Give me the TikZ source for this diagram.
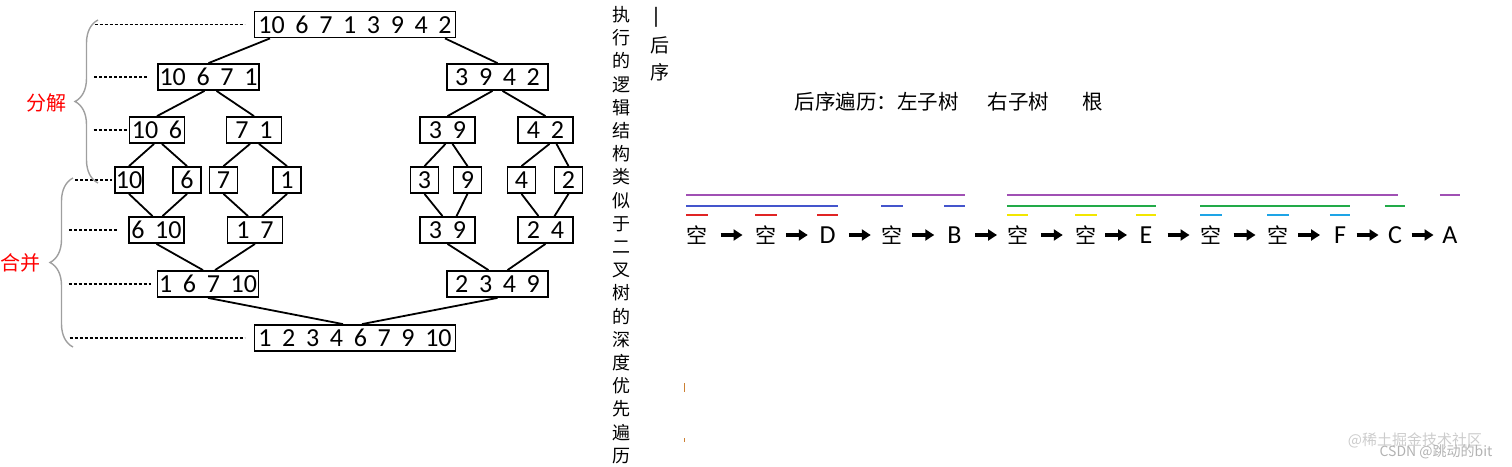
\documentclass[tikz,border=0pt]{standalone}
\usepackage{fontspec}
\setmainfont{Carlito}
\newfontfamily\cjk{Noto Sans CJK SC}
\usepackage{tikz}
\usetikzlibrary{arrows.meta,calc}
\usetikzlibrary{decorations.pathreplacing}
\definecolor{barpurple}{HTML}{A050B4}
\definecolor{barblue}{HTML}{4455CC}
\definecolor{barred}{HTML}{E02424}
\definecolor{bargreen}{HTML}{22AA48}
\definecolor{baryellow}{HTML}{F2E600}
\definecolor{barcyan}{HTML}{1EA4E6}
\newcommand\boxfont{\fontsize{26}{26}\selectfont\spaceskip=.41em\relax}

\begin{document}
\begin{tikzpicture}[x=1pt,y=-1pt,
    link/.style={line width=1.8pt},
    guide/.style={dash pattern=on 3pt off 2pt,line width=1.1pt},
    curly/.style={decorate,decoration={brace,amplitude=23pt},draw=gray!75,line width=1.4pt},
    seq/.style={line width=3.4pt,-{Triangle[length=9pt,width=11pt]}},
    bar/.style={line width=2.6pt},
    kong/.style={font=\cjk\fontsize{21}{21}\selectfont}]%
                    \useasboundingbox (0,0) rectangle (1512,466);%
                    \begin{scope}
                        \tikzstyle{every node}=[draw,line width=1.8pt,inner sep=0pt,minimum height=26pt,font=\boxfont];%%
                        \node[minimum width=201pt] (a) at (355,24.5) {10 6 7 1 3 9 4 2}; %%
                        \node[minimum width=101pt] (b1) at (208.5,77) {10 6 7 1}; %%
                        \node[minimum width=101pt] (b2) at (497.5,77) {3 9 4 2}; %%
                        \node[minimum width=55pt] (c1) at (157,130) {10 6}; %%
                        \node[minimum width=55pt] (c2) at (254,130) {7 1}; %%
                        \node[minimum width=55pt] (c3) at (447.5,130) {3 9}; %%
                        \node[minimum width=55pt] (c4) at (545.5,130) {4 2}; %%
                        \node[minimum width=28pt] (d1) at (129,180) {10}; %%
                        \node[minimum width=28pt] (d2) at (187,180) {6}; %%
                        \node[minimum width=28pt] (d3) at (223.5,180) {7}; %%
                        \node[minimum width=28pt] (d4) at (287,180) {1}; %%
                        \node[minimum width=28pt] (d5) at (424.5,180) {3}; %%
                        \node[minimum width=28pt] (d6) at (467.5,180) {9}; %%
                        \node[minimum width=28pt] (d7) at (521.5,180) {4}; %%
                        \node[minimum width=28pt] (d8) at (568.5,180) {2}; %%
                        \node[minimum width=55pt] (e1) at (156.5,230) {6 10}; %%
                        \node[minimum width=55pt] (e2) at (255,230) {1 7}; %%
                        \node[minimum width=55pt] (e3) at (447.5,230) {3 9}; %%
                        \node[minimum width=55pt] (e4) at (545.5,230) {2 4}; %%
                        \node[minimum width=101pt] (f1) at (208,284) {1 6 7 10}; %%
                        \node[minimum width=101pt] (f2) at (497.5,284) {2 3 4 9}; %%
                        \node[minimum width=201pt] (g) at (355,338) {1 2 3 4 6 7 9 10}; %%
                    \end{scope}
                        \draw[link] ([xshift=-85pt]a.south)--(b1.north); %%
                        \draw[link] ([xshift=90pt]a.south)--(b2.north); %%
                        \draw[link] ([xshift=-4pt]b1.south)--(c1.north); %%
                        \draw[link] ([xshift=8pt]b1.south)--(c2.north); %%
                        \draw[link] ([xshift=-5pt]b2.south)--(c3.north); %%
                        \draw[link] ([xshift=5pt]b2.south)--(c4.north); %%
                        \draw[link] ([xshift=-3pt]c1.south)--(d1.north); %%
                        \draw[link] ([xshift=5pt]c1.south)--(d2.north); %%
                        \draw[link] ([xshift=-4pt]c2.south)--(d3.north); %%
                        \draw[link] ([xshift=5pt]c2.south)--(d4.north); %%
                        \draw[link] ([xshift=-2pt]c3.south)--(d5.north); %%
                        \draw[link] ([xshift=5pt]c3.south)--(d6.north); %%
                        \draw[link] ([xshift=4pt]c4.south)--(d7.north); %%
                        \draw[link] ([xshift=11pt]c4.south)--(d8.north); %%
                        \draw[link] (d1.south)--([xshift=-4pt]e1.north); %%
                        \draw[link] (d2.south)--([xshift=6pt]e1.north); %%
                        \draw[link] (d3.south)--([xshift=-7pt]e2.north); %%
                        \draw[link] (d4.south)--([xshift=7pt]e2.north); %%
                        \draw[link] (d5.south)--([xshift=-5pt]e3.north); %%
                        \draw[link] (d6.south)--([xshift=9pt]e3.north); %%
                        \draw[link] (d7.south)--([xshift=-7pt]e4.north); %%
                        \draw[link] (d8.south)--([xshift=9pt]e4.north); %%
                        \draw[link] (e1.south)--([xshift=-5pt]f1.north); %%
                        \draw[link] (e2.south)--([xshift=7pt]f1.north); %%
                        \draw[link] (e3.south)--([xshift=-9pt]f2.north); %%
                        \draw[link] (e4.south)--([xshift=10pt]f2.north); %%
                        \draw[link] (f1.south)--([xshift=-12pt]g.north); %%
                        \draw[link] (f2.south)--([xshift=7pt]g.north); %%
                    % levels
                        \draw[guide] ([xshift=-159pt]a.west)--([xshift=-9pt]a.west); %%
                        \draw[guide] ([xshift=-63pt]b1.west)--([xshift=-10pt]b1.west); %%
                        \draw[guide] ([xshift=-35pt]c1.west)--([xshift=-2pt]c1.west); %%
                        \draw[guide] ([xshift=-39pt]d1.west)--([xshift=-2pt]d1.west); %%
                        \draw[guide] ([xshift=-59pt]e1.west)--([xshift=-11pt]e1.west); %%
                        \draw[guide] ([xshift=-88pt]f1.west)--([xshift=-6pt]f1.west); %%
                        \draw[guide] ([xshift=-184pt]g.west)--([xshift=-9pt]g.west); %%
                        \draw[curly] (98,183)--(98,20); %%
                        \draw[curly] (73,347)--(73,178); %%
                        \node[text=red,font=\cjk\fontsize{20}{20}\selectfont] (fenjie) at (46,103) {分解}; %%
                        \node[text=red,font=\cjk\fontsize{20}{20}\selectfont] (hebing) at (21,263) {合并}; %%
                    % middle columns
                        \node[align=center,font=\cjk\fontsize{18}{23.2}\selectfont] (logic) at (621,235) {执\\行\\的\\逻\\辑\\结\\构\\类\\似\\于\\二\\叉\\树\\的\\深\\度\\优\\先\\遍\\历}; %%
                        \node[rotate=90,font=\cjk\fontsize{25}{25}\selectfont] (dash) at (660,17.5) {—}; %%
                        \node[align=center,font=\cjk\fontsize{19}{27}\selectfont] (houxu) at (660,58.5) {后\\序}; %%
                        \draw[brown!80!orange,line width=1pt] (684,383)--(684,392); %%
                        \draw[brown!80!orange,line width=.8pt] (684,438)--(684,442); %%
                    % post order
                        \node[anchor=west,font=\cjk\fontsize{20.5}{20.5}\selectfont] (title) at (791,102) {后序遍历：左子树\hspace{29pt}右子树\hspace{33pt}根}; %%
                    \begin{scope}
                        \tikzstyle{every node}=[inner sep=0pt,minimum width=20pt,font=\fontsize{26}{26}\selectfont];%%
                        \node[kong] (k1) at (697,235) {空}; %%
                        \node[kong] (k2) at (766,235) {空}; %%
                        \node (k3) at (827.5,235) {D}; %%
                        \node[kong] (k4) at (892,235) {空}; %%
                        \node (k5) at (954.5,235) {B}; %%
                        \node[kong] (k6) at (1017.5,235) {空}; %%
                        \node[kong] (k7) at (1086,235) {空}; %%
                        \node (k8) at (1146,235) {E}; %%
                        \node[kong] (k9) at (1211,235) {空}; %%
                        \node[kong] (k10) at (1278,235) {空}; %%
                        \node (k11) at (1340,235) {F}; %%
                        \node (k12) at (1395,235) {C}; %%
                        \node (k13) at (1450,235) {A}; %%
                    \end{scope}
                        \draw[seq] ($(k1)!.5!(k2)-(11,0)$)--($(k1)!.5!(k2)+(11,0)$); %%
                        \draw[seq] ($(k2)!.5!(k3)-(11,0)$)--($(k2)!.5!(k3)+(11,0)$); %%
                        \draw[seq] ($(k3)!.5!(k4)-(11,0)$)--($(k3)!.5!(k4)+(11,0)$); %%
                        \draw[seq] ($(k4)!.5!(k5)-(11,0)$)--($(k4)!.5!(k5)+(11,0)$); %%
                        \draw[seq] ($(k5)!.5!(k6)-(11,0)$)--($(k5)!.5!(k6)+(11,0)$); %%
                        \draw[seq] ($(k6)!.5!(k7)-(11,0)$)--($(k6)!.5!(k7)+(11,0)$); %%
                        \draw[seq] ($(k7)!.5!(k8)-(11,0)$)--($(k7)!.5!(k8)+(11,0)$); %%
                        \draw[seq] ($(k8)!.5!(k9)-(11,0)$)--($(k8)!.5!(k9)+(11,0)$); %%
                        \draw[seq] ($(k9)!.5!(k10)-(11,0)$)--($(k9)!.5!(k10)+(11,0)$); %%
                        \draw[seq] ($(k10)!.5!(k11)-(11,0)$)--($(k10)!.5!(k11)+(11,0)$); %%
                        \draw[seq] ($(k11)!.5!(k12)-(11,0)$)--($(k11)!.5!(k12)+(11,0)$); %%
                        \draw[seq] ($(k12)!.5!(k13)-(11,0)$)--($(k12)!.5!(k13)+(11,0)$); %%
                        \draw[bar,barpurple] ([yshift=40pt]k1.west)--([yshift=40pt]k5.east); %%
                        \draw[bar,barpurple] ([yshift=40pt]k6.west)--([yshift=40pt,xshift=-7pt]k12.east); %%
                        \draw[bar,barpurple] ([yshift=40pt]k13.west)--([yshift=40pt]k13.east); %%
                        \draw[bar,barblue] ([yshift=29pt]k1.west)--([yshift=29pt]k3.east); %%
                        \draw[bar,barblue] ([yshift=29pt]k4.west)--([yshift=29pt]k4.east); %%
                        \draw[bar,barblue] ([yshift=29pt]k5.west)--([yshift=29pt]k5.east); %%
                        \draw[bar,bargreen] ([yshift=29pt]k6.west)--([yshift=29pt]k8.east); %%
                        \draw[bar,bargreen] ([yshift=29pt]k9.west)--([yshift=29pt]k11.east); %%
                        \draw[bar,bargreen] ([yshift=29pt]k12.west)--([yshift=29pt]k12.east); %%
                        \draw[bar,barred] ([yshift=20pt]k1.west)--([yshift=20pt]k1.east); %%
                        \draw[bar,barred] ([yshift=20pt]k2.west)--([yshift=20pt]k2.east); %%
                        \draw[bar,barred] ([yshift=20pt]k3.west)--([yshift=20pt]k3.east); %%
                        \draw[bar,baryellow] ([yshift=20pt]k6.west)--([yshift=20pt]k6.east); %%
                        \draw[bar,baryellow] ([yshift=20pt]k7.west)--([yshift=20pt]k7.east); %%
                        \draw[bar,baryellow] ([yshift=20pt]k8.west)--([yshift=20pt]k8.east); %%
                        \draw[bar,barcyan] ([yshift=20pt]k9.west)--([yshift=20pt]k9.east); %%
                        \draw[bar,barcyan] ([yshift=20pt]k10.west)--([yshift=20pt]k10.east); %%
                        \draw[bar,barcyan] ([yshift=20pt]k11.west)--([yshift=20pt]k11.east); %%
                    % watermark
                        \node[text=gray!40,font=\cjk\fontsize{15}{15}\selectfont] (juejin) at (1415,440) {@稀土掘金技术社区}; %%
                        \node[text=gray!60,font=\cjk\fontsize{14}{14}\selectfont] (csdn) at (1436,452) {CSDN @跳动的bit}; %%
                    \end{tikzpicture}
\end{document}
